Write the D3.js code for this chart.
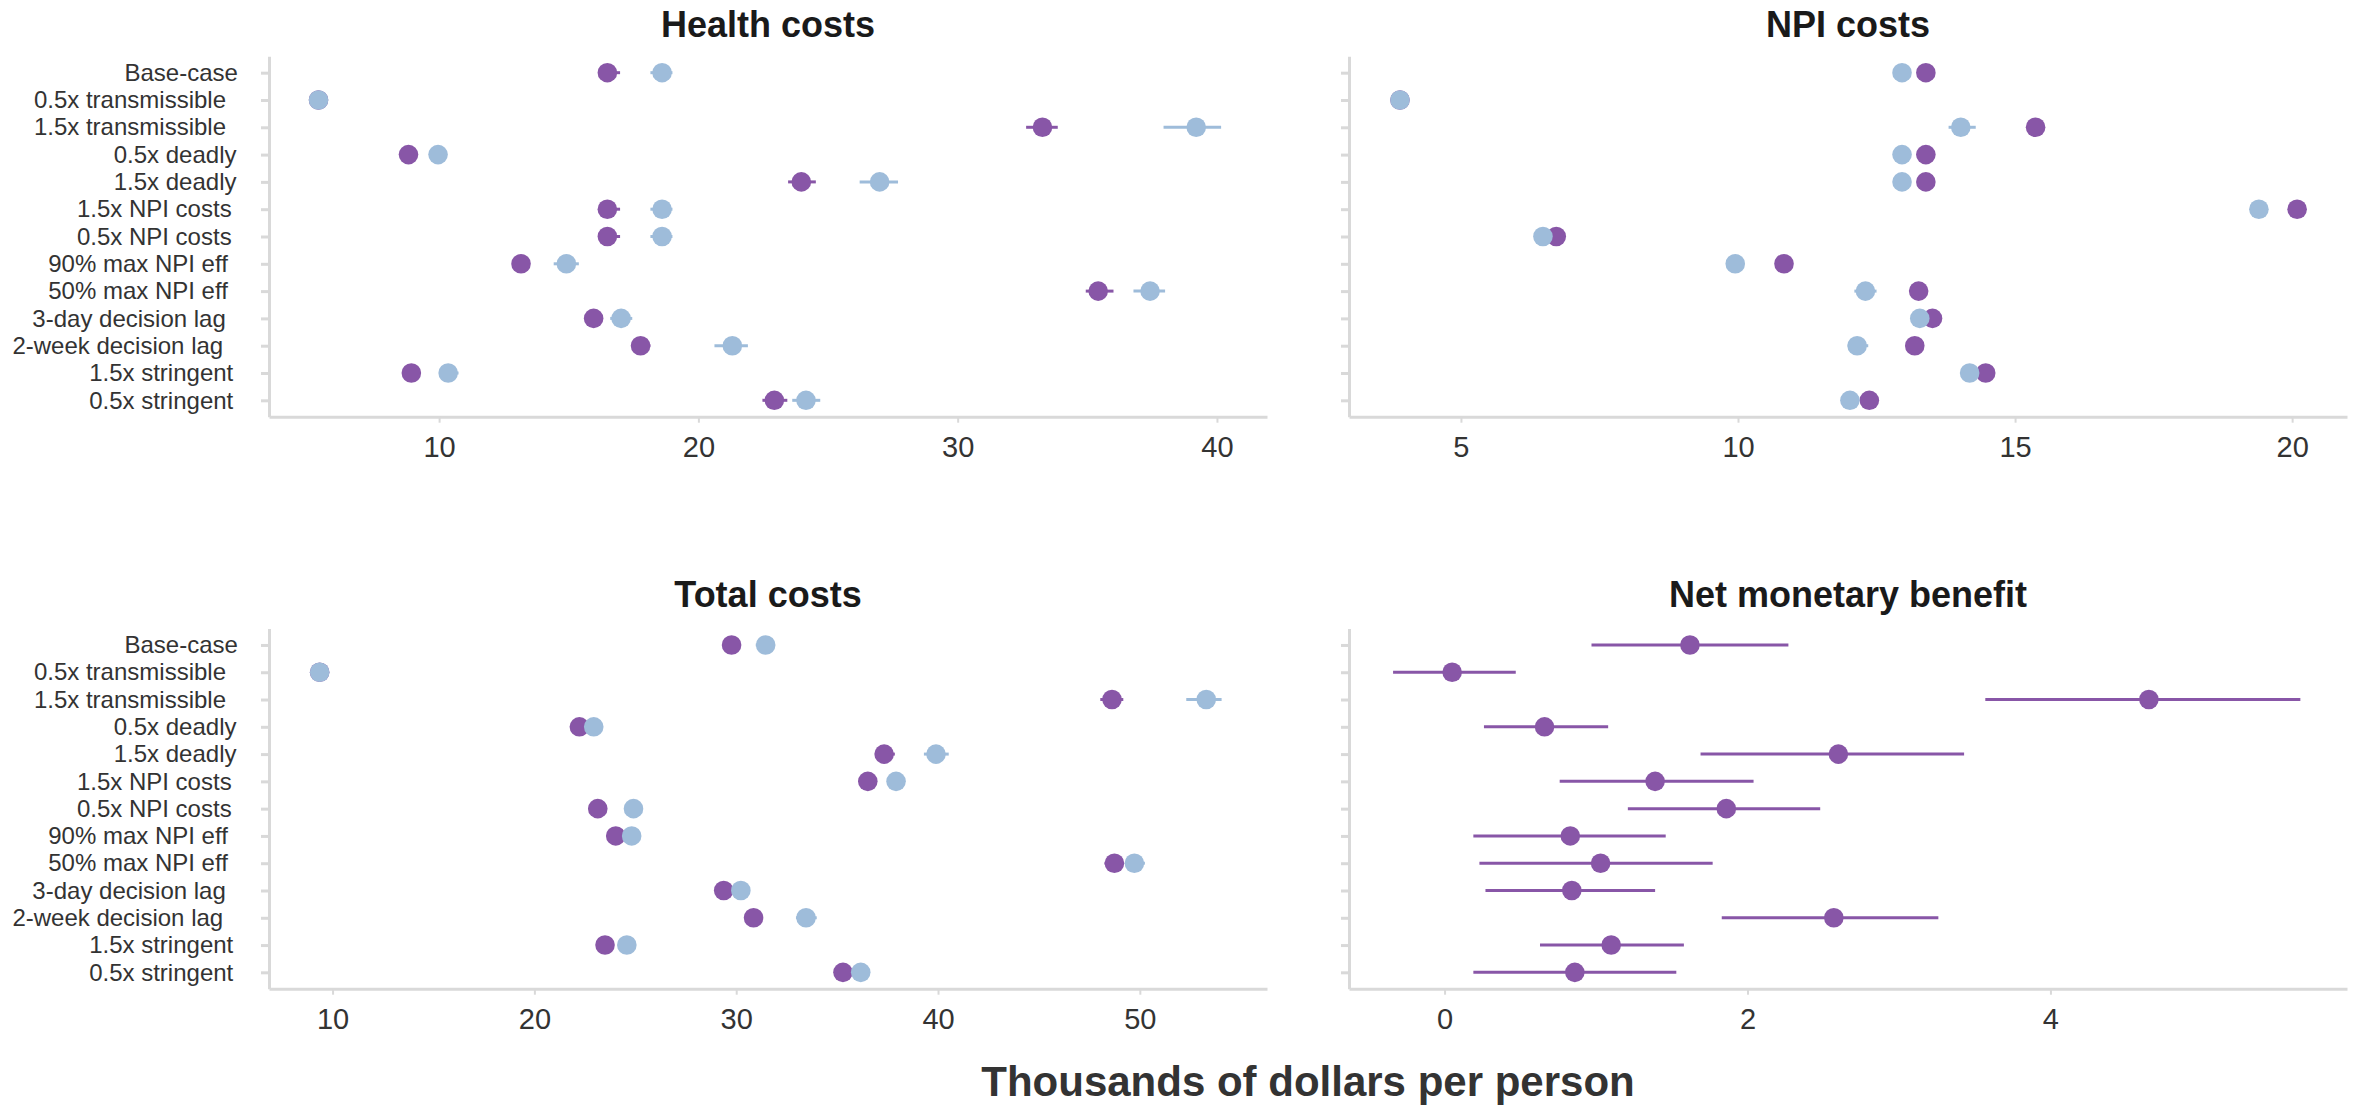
<!DOCTYPE html>
<html>
<head>
<meta charset="utf-8">
<script src="https://cdn.jsdelivr.net/npm/d3@7"></script>
<style>
  html, body { margin: 0; padding: 0; background: #ffffff; }
  svg { display: block; }
</style>
</head>
<body>
<svg id="chart" width="2363" height="1105"></svg>
<script>
// Scenario labels, top to bottom
const scenarios = [
  "Base-case", "0.5x transmissible", "1.5x transmissible", "0.5x deadly",
  "1.5x deadly", "1.5x NPI costs", "0.5x NPI costs", "90% max NPI eff",
  "50% max NPI eff", "3-day decision lag", "2-week decision lag",
  "1.5x stringent", "0.5x stringent"
];

// Health costs, thousands of dollars per person (mean, low, high)
const healthInterv     = [16.49, 5.35, 33.27, 8.82, 23.97, 16.49, 16.49, 13.16, 35.42, 15.96, 17.77, 8.93, 22.93];
const healthIntervLow  = [16.20, 5.20, 32.64, 8.70, 23.46, 16.20, 16.20, 13.00, 34.94, 15.80, 17.40, 8.80, 22.47];
const healthIntervHigh = [16.98, 5.50, 33.86, 8.95, 24.53, 16.98, 16.98, 13.35, 36.01, 16.15, 18.15, 9.10, 23.43];
const healthComp       = [18.60, 5.35, 39.20, 9.96, 26.99, 18.60, 18.60, 14.91, 37.42, 17.02, 21.31, 10.35, 24.15];
const healthCompLow    = [18.15, 5.20, 37.94, 9.80, 26.22, 18.15, 18.15, 14.42, 36.78, 16.60, 20.62, 10.00, 23.62];
const healthCompHigh   = [19.00, 5.50, 40.16, 10.15, 27.70, 19.00, 19.00, 15.39, 38.00, 17.45, 21.91, 10.75, 24.70];

// NPI costs
const npiInterv     = [13.39, 3.90, 15.37, 13.39, 13.39, 20.09, 6.72, 10.83, 13.26, 13.51, 13.19, 14.47, 12.37];
const npiIntervLow  = [13.30, 3.85, 15.30, 13.30, 13.30, 20.00, 6.65, 10.75, 13.18, 13.43, 13.10, 14.40, 12.30];
const npiIntervHigh = [13.48, 3.95, 15.45, 13.48, 13.48, 20.18, 6.80, 10.90, 13.34, 13.60, 13.28, 14.55, 12.45];
const npiComp       = [12.96, 3.90, 14.02, 12.96, 12.96, 19.40, 6.48, 9.95, 12.30, 13.28, 12.15, 14.18, 12.02];
const npiCompLow    = [12.88, 3.85, 13.80, 12.88, 12.88, 19.30, 6.40, 9.87, 12.10, 13.20, 11.98, 14.10, 11.94];
const npiCompHigh   = [13.04, 3.95, 14.29, 13.04, 13.04, 19.50, 6.56, 10.03, 12.50, 13.36, 12.35, 14.26, 12.10];

// Total costs
const totalInterv     = [29.77, 9.36, 48.62, 22.23, 37.33, 36.52, 23.14, 24.03, 48.74, 29.38, 30.86, 23.50, 35.29];
const totalIntervLow  = [29.50, 9.20, 48.04, 22.00, 36.95, 36.25, 22.90, 23.80, 48.25, 29.15, 30.60, 23.25, 35.05];
const totalIntervHigh = [30.05, 9.50, 49.18, 22.45, 37.86, 36.80, 23.40, 24.25, 49.20, 29.60, 31.10, 23.75, 35.55];
const totalComp       = [31.46, 9.36, 53.29, 22.94, 39.90, 37.92, 24.91, 24.82, 49.73, 30.23, 33.46, 24.58, 36.17];
const totalCompLow    = [30.97, 9.20, 52.30, 22.70, 39.30, 37.65, 24.50, 24.55, 49.30, 30.00, 32.96, 24.30, 35.90];
const totalCompHigh   = [31.90, 9.50, 54.05, 23.20, 40.53, 38.20, 25.38, 25.10, 50.25, 30.45, 33.99, 24.85, 36.45];

// Net monetary benefit
const nmb     = [1.62, 0.05, 4.65, 0.66, 2.60, 1.39, 1.86, 0.83, 1.03, 0.84, 2.57, 1.10, 0.86];
const nmbLow  = [0.97, -0.34, 3.57, 0.26, 1.69, 0.76, 1.21, 0.19, 0.23, 0.27, 1.83, 0.63, 0.19];
const nmbHigh = [2.27, 0.47, 5.65, 1.08, 3.43, 2.04, 2.48, 1.46, 1.77, 1.39, 3.26, 1.58, 1.53];

// Tick values per panel
const healthTicks = [10, 20, 30, 40];
const npiTicks = [5, 10, 15, 20];
const totalTicks = [10, 20, 30, 40, 50];
const nmbTicks = [0, 2, 4];

const PURPLE = "#8856a7";
const BLUE = "#9ebcda";
const AXIS_GREY = "#d9d9d9";
const FONT = "'Liberation Sans', Arial, Helvetica, sans-serif";

const svg = d3.select("#chart");
svg.append("rect").attr("width", 2363).attr("height", 1105).attr("fill", "#ffffff");

function drawPanel(opt) {
  const x = d3.scaleLinear().domain(opt.domain).range([opt.left, opt.right]);
  const y = d3.scalePoint().domain(scenarios).range([opt.top, opt.bottom]).padding(0.6);
  const g = svg.append("g");

  // panel title
  g.append("text")
    .attr("x", (opt.left + opt.right) / 2)
    .attr("y", opt.titleY)
    .attr("text-anchor", "middle")
    .attr("font-family", FONT)
    .attr("font-weight", "bold")
    .attr("font-size", 36)
    .attr("fill", "#1a1a1a")
    .text(opt.title);

  // x axis
  const xa = g.append("g")
    .attr("transform", `translate(0,${opt.bottom})`)
    .call(d3.axisBottom(x).tickValues(opt.ticks).tickFormat(d3.format("~g"))
      .tickSize(6).tickSizeOuter(0).tickPadding(14));
  xa.select(".domain").attr("stroke", AXIS_GREY).attr("stroke-width", 3);
  xa.selectAll(".tick line").attr("stroke", AXIS_GREY).attr("stroke-width", 2);
  xa.selectAll(".tick text")
    .attr("font-family", FONT).attr("font-size", 29).attr("fill", "#333333");

  // y axis
  const ya = g.append("g")
    .attr("transform", `translate(${opt.left},0)`)
    .call(d3.axisLeft(y).tickSize(8).tickSizeOuter(0));
  ya.select(".domain").attr("stroke", AXIS_GREY).attr("stroke-width", 3);
  ya.selectAll(".tick line").attr("stroke", AXIS_GREY).attr("stroke-width", 3);
  if (opt.showLabels) {
    ya.selectAll(".tick text")
      .attr("font-family", FONT).attr("font-size", 24).attr("fill", "#333333")
      .attr("text-anchor", "start")
      .each(function () {
        const w = this.getComputedTextLength();
        d3.select(this).attr("x", -(14 + 1.151 * w));
      });
  } else {
    ya.selectAll(".tick text").remove();
  }

  // error bars first, then the points on top
  opt.series.forEach(s => {
    g.append("g").selectAll("line")
      .data(scenarios.map((c, i) => ({ c, lo: s.lo[i], hi: s.hi[i] })))
      .join("line")
      .attr("x1", d => x(d.lo)).attr("x2", d => x(d.hi))
      .attr("y1", d => y(d.c)).attr("y2", d => y(d.c))
      .attr("stroke", s.color).attr("stroke-width", 3);
  });
  opt.series.forEach(s => {
    g.append("g").selectAll("circle")
      .data(scenarios.map((c, i) => ({ c, v: s.values[i] })))
      .join("circle")
      .attr("cx", d => x(d.v)).attr("cy", d => y(d.c))
      .attr("r", 9.8).attr("fill", s.color);
  });
}

const L = { left: 269, right: 1267 };
const R = { left: 1349, right: 2347 };
const TOP = { top: 56.3, bottom: 416.7, titleY: 37 };
const BOT = { top: 628.6, bottom: 988.7, titleY: 607 };

drawPanel({
  title: "Health costs", ...L, ...TOP, domain: [3.44, 41.93], ticks: healthTicks, showLabels: true,
  series: [
    { values: healthInterv, lo: healthIntervLow, hi: healthIntervHigh, color: PURPLE },
    { values: healthComp, lo: healthCompLow, hi: healthCompHigh, color: BLUE }
  ]
});
drawPanel({
  title: "NPI costs", ...R, ...TOP, domain: [2.98, 20.99], ticks: npiTicks, showLabels: false,
  series: [
    { values: npiInterv, lo: npiIntervLow, hi: npiIntervHigh, color: PURPLE },
    { values: npiComp, lo: npiCompLow, hi: npiCompHigh, color: BLUE }
  ]
});
drawPanel({
  title: "Total costs", ...L, ...BOT, domain: [6.85, 56.3], ticks: totalTicks, showLabels: true,
  series: [
    { values: totalInterv, lo: totalIntervLow, hi: totalIntervHigh, color: PURPLE },
    { values: totalComp, lo: totalCompLow, hi: totalCompHigh, color: BLUE }
  ]
});
drawPanel({
  title: "Net monetary benefit", ...R, ...BOT, domain: [-0.631, 5.958], ticks: nmbTicks, showLabels: false,
  series: [
    { values: nmb, lo: nmbLow, hi: nmbHigh, color: PURPLE }
  ]
});

// shared x axis title
svg.append("text")
  .attr("x", 1308).attr("y", 1096)
  .attr("text-anchor", "middle")
  .attr("font-family", FONT)
  .attr("font-weight", "bold")
  .attr("font-size", 42)
  .attr("fill", "#333333")
  .text("Thousands of dollars per person");
</script>
</body>
</html>
